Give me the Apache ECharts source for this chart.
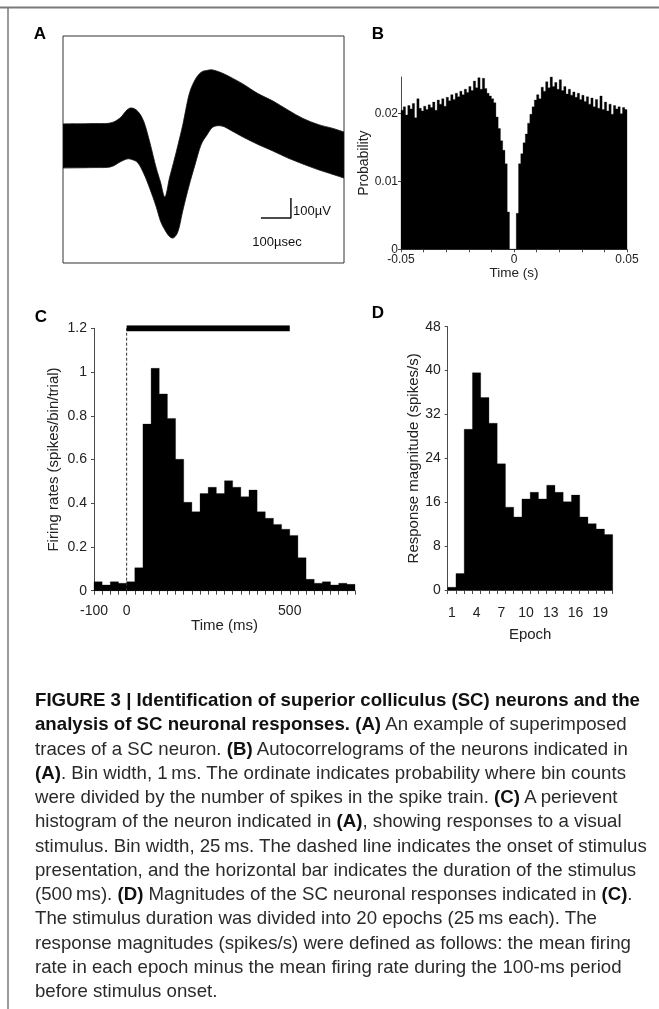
<!DOCTYPE html>
<html><head><meta charset="utf-8">
<script src="https://cdn.jsdelivr.net/npm/echarts@6/dist/echarts.min.js"></script>
<style>
html,body{margin:0;padding:0;background:#fff;}
#chart{position:absolute;left:0;top:0;width:659px;height:1009px;}
#cap{position:absolute;left:35px;top:688px;font-family:"Liberation Sans Narrow","Liberation Sans",Arial,sans-serif;font-size:18.5px;line-height:24.25px;color:#2a2a2a;white-space:nowrap;transform-origin:0 0;}
#cap b{font-weight:bold;color:#111}
</style></head><body>
<div id="chart"></div>
<div id="cap">
<span class="ln"><b>FIGURE 3 | Identification of superior colliculus (SC) neurons and the</b></span><br>
<b>analysis of SC neuronal responses. (A)</b> An example of superimposed<br>
traces of a SC neuron. <b>(B)</b> Autocorrelograms of the neurons indicated in<br>
<b>(A)</b>. Bin width, 1&#8201;ms. The ordinate indicates probability where bin counts<br>
were divided by the number of spikes in the spike train. <b>(C)</b> A perievent<br>
histogram of the neuron indicated in <b>(A)</b>, showing responses to a visual<br>
stimulus. Bin width, 25&#8201;ms. The dashed line indicates the onset of stimulus<br>
presentation, and the horizontal bar indicates the duration of the stimulus<br>
(500&#8201;ms). <b>(D)</b> Magnitudes of the SC neuronal responses indicated in <b>(C)</b>.<br>
The stimulus duration was divided into 20 epochs (25&#8201;ms each). The<br>
response magnitudes (spikes/s) were defined as follows: the mean firing<br>
rate in each epoch minus the mean firing rate during the 100-ms period<br>
before stimulus onset.
</div>
<script>
// ---------- Panel A: superimposed spike waveform envelope (time µs, voltage µV) ----------
var waveT     = [0,100,157,190,213,230,250,270,290,310,325,340,355,370,385,400,420,440,460,480,500,530,560,600,650,700,750,800,850,900,937];
var waveUpper = [110,112,115,140,180,190,172,120,15,-105,-180,-255,-160,-75,15,110,255,330,368,378,380,365,343,310,262,225,180,138,108,88,70];
var waveLower = [-110,-108,-105,-80,-65,-68,-85,-140,-215,-300,-375,-420,-452,-458,-420,-320,-200,-95,5,55,95,100,78,45,8,-25,-60,-90,-118,-142,-160];
var scaleBarT = [660,760,760];
var scaleBarV = [-360,-360,-260];

// ---------- Panel B: autocorrelogram, 1 ms bins from -0.05 s ----------
var bStart = -0.05, bWidth = 0.001;
var bProb = [
0.0205,0.0210,0.0198,0.0212,0.0207,0.0215,0.0194,0.0222,0.0208,0.0204,
0.0211,0.0206,0.0213,0.0209,0.0217,0.0205,0.0220,0.0214,0.0222,0.0211,
0.0224,0.0219,0.0228,0.0221,0.0230,0.0225,0.0233,0.0228,0.0236,0.0231,
0.0240,0.0234,0.0248,0.0238,0.0253,0.0236,0.0252,0.0237,0.0230,0.0226,
0.0222,0.0216,0.0195,0.0178,0.0160,0.0146,0.0126,0.0055,0,0,
0,0.0053,0.0126,0.0141,0.0157,0.0170,0.0186,0.0199,0.0210,0.0220,
0.0228,0.0222,0.0239,0.0233,0.0247,0.0238,0.0254,0.0240,0.0246,0.0236,
0.0250,0.0234,0.0240,0.0229,0.0236,0.0227,0.0232,0.0224,0.0230,0.0221,
0.0227,0.0218,0.0225,0.0214,0.0223,0.0210,0.0221,0.0208,0.0226,0.0206,
0.0217,0.0204,0.0214,0.0199,0.0212,0.0207,0.0210,0.0200,0.0209,0.0206];
var bYTicks = [0,0.01,0.02];
var bXLabels = [-0.05,0,0.05];

// ---------- Panel C: PSTH, 25 ms bins from -100 ms ----------
var cStart = -100, cWidth = 25;
var cRate = [0.041,0.026,0.041,0.034,0.041,0.105,0.762,1.017,0.900,0.788,
0.601,0.404,0.361,0.444,0.473,0.444,0.503,0.473,0.430,0.460,
0.361,0.331,0.303,0.281,0.253,0.151,0.052,0.034,0.041,0.026,0.034,0.029];
var cXLabels = [-100,0,500];
var cStimulus = [0,500];
var cStimLevel = 1.2;

// ---------- Panel D: response magnitude per epoch ----------
var dEpochs = [1,2,3,4,5,6,7,8,9,10,11,12,13,14,15,16,17,18,19,20];
var dMag = [0.5,3.0,29.3,39.6,35.1,30.4,23.0,15.1,13.3,16.6,17.8,16.6,19.1,17.8,16.1,17.3,13.3,12.1,11.1,10.1];
var dXLabels = [1,4,7,10,13,16,19];

var FONT = '"Liberation Sans", Arial, sans-serif';
var AX = '#4a4a4a', TX = '#222';

function histPolygon(xs0, w, vals, fill){
  return function(params, api){
    var pts = [api.coord([xs0, 0])];
    for (var i=0;i<vals.length;i++){
      var x0 = xs0 + i*w, x1 = x0 + w;
      pts.push(api.coord([x0, vals[i]]));
      pts.push(api.coord([x1, vals[i]]));
    }
    pts.push(api.coord([xs0 + vals.length*w, 0]));
    return {type:'polygon', shape:{points:pts}, style:{fill:fill, stroke:fill, lineWidth:0.3}};
  };
}
// Catmull-Rom smoothed path segment through pixel points (appended to path string)
function smoothThrough(p, d){
  for (var i=0;i<p.length-1;i++){
    var p0 = p[Math.max(0,i-1)], p1 = p[i], p2 = p[i+1], p3 = p[Math.min(p.length-1,i+2)];
    var c1x = p1[0] + (p2[0]-p0[0])/6, c1y = p1[1] + (p2[1]-p0[1])/6;
    var c2x = p2[0] - (p3[0]-p1[0])/6, c2y = p2[1] - (p3[1]-p1[1])/6;
    d += ' C' + c1x.toFixed(2)+','+c1y.toFixed(2)+' '+c2x.toFixed(2)+','+c2y.toFixed(2)+' '+p2[0].toFixed(2)+','+p2[1].toFixed(2);
  }
  return d;
}
function range(a,b,step){var r=[];for(var v=a;v<=b+1e-9;v+=step){r.push(+v.toFixed(6));}return r;}
function merge(a,b){for(var k in b){a[k]=b[k];}return a;}
function axisBase(fs){
  return {
    axisLine:{show:true,onZero:false,lineStyle:{color:AX,width:1}},
    axisTick:{show:true,length:3,lineStyle:{color:AX,width:1}},
    axisLabel:{color:TX,fontFamily:FONT,fontSize:fs},
    splitLine:{show:false},
    nameTextStyle:{color:TX,fontFamily:FONT,fontSize:fs+1}
  };
}

var chart = echarts.init(document.getElementById('chart'), null, {renderer:'canvas'});

var option = {
  animation:false,
  backgroundColor:'#fff',
  grid:[
    {left:63, top:36, width:281, height:227, show:true, borderColor:'#333', borderWidth:1, backgroundColor:'transparent'},
    {left:401, top:77, width:226, height:172.3},
    {left:94, top:328.3, width:261, height:262.4},
    {left:447.7, top:326.7, width:165, height:263.3}
  ],
  xAxis:[
    {gridIndex:0, type:'value', min:0, max:937, show:false},
    merge(axisBase(12), {gridIndex:1, type:'value', min:-0.05, max:0.05,
      name:'Time (s)', nameLocation:'middle', nameGap:13, nameTextStyle:{color:TX,fontFamily:FONT,fontSize:13.5},
      axisTick:{show:true,length:3,lineStyle:{color:AX},customValues:range(-0.05,0.05,0.01)},
      axisLabel:{color:TX,fontFamily:FONT,fontSize:12,margin:4,customValues:bXLabels,formatter:function(v){return Math.abs(v)<1e-9?'0':String(v);}}}),
    merge(axisBase(14), {gridIndex:2, type:'value', min:-100, max:700,
      name:'Time (ms)', nameLocation:'middle', nameGap:23, nameTextStyle:{color:TX,fontFamily:FONT,fontSize:15},
      axisTick:{show:true,length:4,lineStyle:{color:AX},customValues:range(-100,700,25)},
      axisLabel:{color:TX,fontFamily:FONT,fontSize:14,margin:13,customValues:cXLabels}}),
    merge(axisBase(14), {gridIndex:3, type:'value', min:0.5, max:20.5,
      name:'Epoch', nameLocation:'middle', nameGap:37, nameTextStyle:{color:TX,fontFamily:FONT,fontSize:15},
      axisTick:{show:true,length:4,lineStyle:{color:AX},customValues:range(0.5,20.5,1)},
      axisLabel:{color:TX,fontFamily:FONT,fontSize:14,margin:16,customValues:dXLabels}})
  ],
  yAxis:[
    {gridIndex:0, type:'value', min:-585, max:550, show:false},
    merge(axisBase(12), {gridIndex:1, type:'value', min:0, max:0.0254,
      name:'Probability', nameLocation:'middle', nameGap:24, nameTextStyle:{color:TX,fontFamily:FONT,fontSize:14},
      axisTick:{show:true,length:3,lineStyle:{color:AX},customValues:bYTicks},
      axisLabel:{color:TX,fontFamily:FONT,fontSize:12,margin:3,customValues:bYTicks,formatter:function(v){return Math.abs(v)<1e-9?'0':String(v);}}}),
    merge(axisBase(14), {gridIndex:2, type:'value', min:0, max:1.2, interval:0.2,
      name:'Firing rates (spikes/bin/trial)', nameLocation:'middle', nameGap:33, nameTextStyle:{color:TX,fontFamily:FONT,fontSize:15},
      axisLabel:{color:TX,fontFamily:FONT,fontSize:14,margin:7}}),
    merge(axisBase(14), {gridIndex:3, type:'value', min:0, max:48, interval:8,
      name:'Response magnitude (spikes/s)', nameLocation:'middle', nameGap:25, nameTextStyle:{color:TX,fontFamily:FONT,fontSize:15},
      axisLabel:{color:TX,fontFamily:FONT,fontSize:14,margin:7}})
  ],
  series:[
    {type:'custom', xAxisIndex:0, yAxisIndex:0, data:[[0,0]], silent:true, clip:true,
      renderItem:function(params, api){
        var up = waveT.map(function(t,i){return api.coord([t, waveUpper[i]]);});
        var lo = waveT.map(function(t,i){return api.coord([t, waveLower[i]]);}).reverse();
        var d = 'M' + up[0][0].toFixed(2) + ',' + up[0][1].toFixed(2);
        d = smoothThrough(up, d);
        d += ' L' + lo[0][0].toFixed(2) + ',' + lo[0][1].toFixed(2);
        d = smoothThrough(lo, d);
        d += ' Z';
        return {type:'path', shape:{pathData:d}, style:{fill:'#000', stroke:'#111', lineWidth:0.8}};
      }},
    {type:'line', xAxisIndex:0, yAxisIndex:0, symbol:'none', silent:true,
      data:scaleBarT.map(function(t,i){return [t, scaleBarV[i]];}),
      lineStyle:{color:'#111', width:1.5}},
    {type:'custom', xAxisIndex:1, yAxisIndex:1, data:[[0,0]], silent:true,
      renderItem:histPolygon(bStart, bWidth, bProb, '#000')},
    {type:'custom', xAxisIndex:2, yAxisIndex:2, data:[[0,0]], silent:true,
      renderItem:histPolygon(cStart, cWidth, cRate, '#000')},
    {type:'line', xAxisIndex:2, yAxisIndex:2, symbol:'none', silent:true,
      data:[[0,0],[0,cStimLevel]], lineStyle:{color:'#333', width:1, type:[3,2]}},
    {type:'line', xAxisIndex:2, yAxisIndex:2, symbol:'none', silent:true,
      data:cStimulus.map(function(t){return [t, cStimLevel];}), lineStyle:{color:'#000', width:6, cap:'butt'}},
    {type:'custom', xAxisIndex:3, yAxisIndex:3, data:[[0,0]], silent:true,
      renderItem:histPolygon(dEpochs[0]-0.5, 1, dMag, '#000')}
  ],
  graphic:[
    {type:'line', shape:{x1:0,y1:7.5,x2:659,y2:7.5}, style:{stroke:'#7a7a7a', lineWidth:2}},
    {type:'line', shape:{x1:8,y1:7,x2:8,y2:1009}, style:{stroke:'#7a7a7a', lineWidth:1.5}},
    {type:'text', x:40, y:34, style:{text:'A', font:'bold 17px '+FONT, fill:'#000', align:'center', verticalAlign:'middle'}},
    {type:'text', x:378, y:34, style:{text:'B', font:'bold 17px '+FONT, fill:'#000', align:'center', verticalAlign:'middle'}},
    {type:'text', x:41, y:317, style:{text:'C', font:'bold 17px '+FONT, fill:'#000', align:'center', verticalAlign:'middle'}},
    {type:'text', x:378, y:313, style:{text:'D', font:'bold 17px '+FONT, fill:'#000', align:'center', verticalAlign:'middle'}},
    {type:'text', x:293, y:211, style:{text:'100\u00b5V', font:'13px '+FONT, fill:'#111', align:'left', verticalAlign:'middle'}},
    {type:'text', x:277, y:242, style:{text:'100\u00b5sec', font:'13px '+FONT, fill:'#111', align:'center', verticalAlign:'middle'}}
  ]
};
chart.setOption(option);

// fit caption width so its first (widest) line spans the same width as in the figure
(function(){
  var cap = document.getElementById('cap');
  var ln = cap.querySelector('.ln');
  var w = ln.getBoundingClientRect().width;
  var target = 605;
  if (w > 0) cap.style.transform = 'scaleX(' + (target / w).toFixed(4) + ')';
})();
</script>
</body></html>
